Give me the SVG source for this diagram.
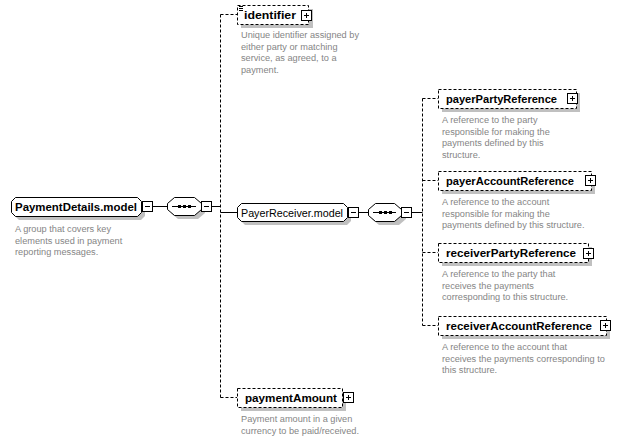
<svg xmlns="http://www.w3.org/2000/svg" width="620" height="441" viewBox="0 0 620 441">
<defs>
<style>
.name{font-family:"Liberation Sans",Arial,sans-serif;font-size:11px;font-weight:bold;fill:#000}
.plain{font-family:"Liberation Sans",Arial,sans-serif;font-size:11px;fill:#000}
.desc{font-family:"Liberation Sans",Arial,sans-serif;font-size:9.2px;fill:#858585}
.box{fill:#fff;stroke:#000;stroke-width:1}
.dbox{fill:#fff;stroke:#000;stroke-width:1;stroke-dasharray:3,2}
.shadow{fill:#c0c0c0;stroke:none}
.line{stroke:#000;stroke-width:1;fill:none}
.dline{stroke:#000;stroke-width:1;fill:none;stroke-dasharray:3,2}
.ico{fill:#fff;stroke:#000;stroke-width:1}
</style>
<g id="plus"><rect class="ico" x="0.5" y="0.5" width="10" height="10"/><path class="line" d="M3 5.5H8M5.5 3V8"/></g>
<g id="minus"><rect class="ico" x="0.5" y="0.5" width="10" height="10"/><path class="line" d="M3 5.5H8"/></g>
</defs>
<rect width="620" height="441" fill="#fff"/>

<g id="connectors">
<path class="line" d="M152 206.5H167M211 206.5H220.5"/>
<path class="dline" d="M220.5 14.5V397.5"/>
<path class="dline" d="M220.5 14.5H237"/>
<path class="line" d="M220.5 212.5H237"/>
<path class="dline" d="M220.5 397.5H237"/>
<path class="line" d="M359 212.5H368M411 212.5H422.5"/>
<path class="dline" d="M422.5 98.5V325.5"/>
<path class="dline" d="M422.5 98.5H438M422.5 180.5H438M422.5 252.5H438M422.5 325.5H438"/>
</g>

<g id="PaymentDetails.model">
<path class="shadow" d="M19 201H141L145 205V216L141 220H19L15 216V205Z"/>
<path class="box" d="M15.5 197.5H137.5L141.5 201.5V212.5L137.5 216.5H15.5L11.5 212.5V201.5Z"/>
<text class="name" x="15" y="210.5" textLength="122" lengthAdjust="spacingAndGlyphs">PaymentDetails.model</text>
<use href="#minus" x="142" y="201"/>
<text class="desc" x="15" y="232">A group that covers key</text>
<text class="desc" x="15" y="243.5">elements used in payment</text>
<text class="desc" x="15" y="255">reporting messages.</text>
</g>

<g id="sequence1">
<path class="shadow" d="M178 201H198L205 207V213L198 219H178L171 213V207Z"/>
<path class="box" d="M174.5 197.5H194.5L201.5 203.5V209.5L194.5 215.5H174.5L167.5 209.5V203.5Z"/>
<path class="line" d="M172 206.5H196"/>
<rect x="178" y="205" width="3" height="3" fill="#000"/>
<rect x="183" y="205" width="3" height="3" fill="#000"/>
<rect x="188" y="205" width="3" height="3" fill="#000"/>
<use href="#minus" x="201" y="201"/>
</g>

<g id="identifier">
<rect class="shadow" x="241" y="9" width="72" height="19"/>
<rect class="dbox" x="237.5" y="5.5" width="71" height="19"/>
<path class="line" d="M239 6.5H243M239 8.5H243M239 10.5H243"/>
<text class="name" x="244" y="19" textLength="52" lengthAdjust="spacingAndGlyphs">identifier</text>
<use href="#plus" x="301" y="10"/>
<text class="desc" x="241" y="38">Unique identifier assigned by</text>
<text class="desc" x="241" y="49.5">either party or matching</text>
<text class="desc" x="241" y="61">service, as agreed, to a</text>
<text class="desc" x="241" y="72.5">payment.</text>
</g>

<g id="PayerReceiver.model">
<path class="shadow" d="M245 207H347L351 211V221L347 225H245L241 221V211Z"/>
<path class="box" d="M241.5 203.5H343.5L347.5 207.5V217.5L343.5 221.5H241.5L237.5 217.5V207.5Z"/>
<text class="plain" x="241" y="216.5" textLength="102" lengthAdjust="spacingAndGlyphs">PayerReceiver.model</text>
<use href="#minus" x="348" y="207"/>
</g>

<g id="sequence2">
<path class="shadow" d="M379 207H399L406 213V219L399 225H379L372 219V213Z"/>
<path class="box" d="M375.5 203.5H394.5L401.5 209.5V215.5L394.5 221.5H375.5L368.5 215.5V209.5Z"/>
<path class="line" d="M373 212.5H396"/>
<rect x="379" y="211" width="3" height="3" fill="#000"/>
<rect x="384" y="211" width="3" height="3" fill="#000"/>
<rect x="389" y="211" width="3" height="3" fill="#000"/>
<use href="#minus" x="401" y="207"/>
</g>

<g id="payerPartyReference">
<rect class="shadow" x="442" y="93" width="138" height="19"/>
<rect class="dbox" x="438.5" y="89.5" width="138" height="19"/>
<text class="name" x="446" y="103" textLength="111" lengthAdjust="spacingAndGlyphs">payerPartyReference</text>
<use href="#plus" x="567" y="93"/>
<text class="desc" x="442" y="123">A reference to the party</text>
<text class="desc" x="442" y="134.5">responsible for making the</text>
<text class="desc" x="442" y="146">payments defined by this</text>
<text class="desc" x="442" y="157.5">structure.</text>
</g>

<g id="payerAccountReference">
<rect class="shadow" x="442" y="175" width="153" height="19"/>
<rect class="dbox" x="438.5" y="171.5" width="153" height="19"/>
<text class="name" x="446" y="185" textLength="128" lengthAdjust="spacingAndGlyphs">payerAccountReference</text>
<use href="#plus" x="585" y="175"/>
<text class="desc" x="442" y="205">A reference to the account</text>
<text class="desc" x="442" y="216.5">responsible for making the</text>
<text class="desc" x="442" y="228">payments defined by this structure.</text>
</g>

<g id="receiverPartyReference">
<rect class="shadow" x="442" y="247" width="150" height="19"/>
<rect class="dbox" x="438.5" y="243.5" width="150" height="19"/>
<text class="name" x="446" y="257" textLength="130" lengthAdjust="spacingAndGlyphs">receiverPartyReference</text>
<use href="#plus" x="583" y="248"/>
<text class="desc" x="442" y="277">A reference to the party that</text>
<text class="desc" x="442" y="288.5">receives the payments</text>
<text class="desc" x="442" y="300">corresponding to this structure.</text>
</g>

<g id="receiverAccountReference">
<rect class="shadow" x="442" y="320" width="168" height="19"/>
<rect class="dbox" x="438.5" y="316.5" width="168" height="19"/>
<text class="name" x="446" y="330" textLength="146" lengthAdjust="spacingAndGlyphs">receiverAccountReference</text>
<use href="#plus" x="600" y="320"/>
<text class="desc" x="442" y="350">A reference to the account that</text>
<text class="desc" x="442" y="361.5">receives the payments corresponding to</text>
<text class="desc" x="442" y="373">this structure.</text>
</g>

<g id="paymentAmount">
<rect class="shadow" x="241" y="392" width="105" height="19"/>
<rect class="dbox" x="237.5" y="388.5" width="105" height="19"/>
<text class="name" x="245" y="402" textLength="92" lengthAdjust="spacingAndGlyphs">paymentAmount</text>
<use href="#plus" x="343" y="392"/>
<text class="desc" x="241" y="422">Payment amount in a given</text>
<text class="desc" x="241" y="433.5">currency to be paid/received.</text>
</g>
</svg>
